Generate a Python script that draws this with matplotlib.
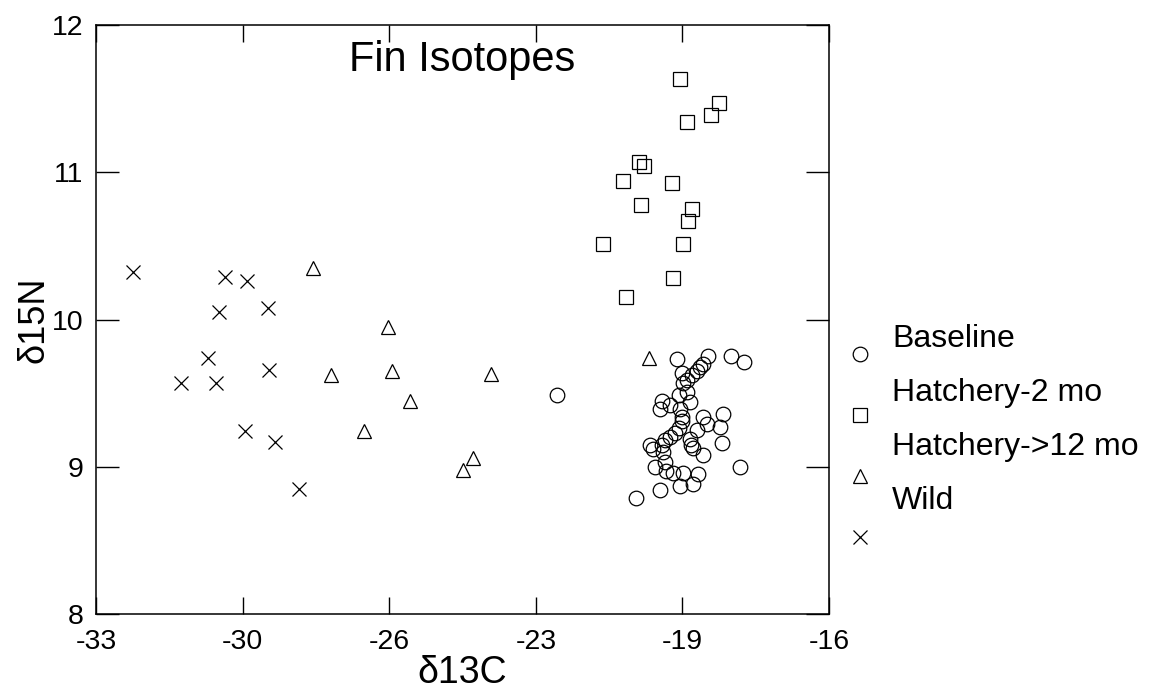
import numpy as np
import matplotlib
matplotlib.use("Agg")
import matplotlib.pyplot as plt
from matplotlib.lines import Line2D

plt.rcParams['font.family'] = ['Liberation Sans', 'DejaVu Sans']

# Baseline (circles)
base_x = [-22.32, -19.53, -18.80, -18.27, -17.97, -18.92, -18.99, -19.07, -19.19, -19.30,
          -19.38, -19.42, -19.29, -19.47, -19.23, -19.88, -19.92, -19.69, -19.46, -19.40,
          -19.42, -19.47, -19.57, -19.69, -19.80, -19.88, -20.15, -20.08, -19.86, -18.92,
          -18.84, -18.53, -18.47, -19.07, -19.22, -19.21, -19.16, -18.92, -18.49, -20.04,
          -19.80, -19.77, -19.63, -19.38, -19.03, -19.46, -19.16, -19.92, -20.48, -18.07]
base_y = [9.49, 9.73, 9.75, 9.75, 9.71, 9.70, 9.68, 9.65, 9.62, 9.59,
          9.57, 9.64, 9.51, 9.49, 9.44, 9.45, 9.39, 9.42, 9.39, 9.34,
          9.31, 9.26, 9.23, 9.20, 9.18, 9.15, 9.15, 9.12, 9.10, 9.34,
          9.29, 9.27, 9.36, 9.25, 9.19, 9.15, 9.13, 9.08, 9.16, 9.00,
          9.03, 8.97, 8.96, 8.96, 8.95, 8.87, 8.88, 8.84, 8.79, 9.00]

# Hatchery-2 mo (squares)
h2_x = [-19.46, -18.55, -18.73, -19.30, -20.41, -20.30, -20.77, -19.65, -20.35, -19.17,
        -19.26, -21.25, -19.38, -19.63, -20.72]
h2_y = [11.63, 11.47, 11.39, 11.34, 11.07, 11.04, 10.94, 10.93, 10.78, 10.75,
        10.67, 10.51, 10.51, 10.28, 10.15]

# Hatchery->12 mo (triangles)
h12_x = [-27.96, -26.22, -27.55, -26.14, -23.84, -25.71, -26.79, -24.25, -24.48, -20.17]
h12_y = [10.35, 9.95, 9.62, 9.65, 9.63, 9.45, 9.24, 9.06, 8.98, 9.74]

# Wild (crosses)
wild_x = [-32.15, -30.01, -29.51, -30.15, -29.02, -30.40, -31.03, -30.22, -28.99, -29.54,
          -28.86, -28.29]
wild_y = [10.32, 10.29, 10.26, 10.05, 10.08, 9.74, 9.57, 9.57, 9.66, 9.24,
          9.17, 8.85]

xtick_labels = ['-33', '-30', '-26', '-23', '-19', '-16']
ytick_vals = [8, 9, 10, 11, 12]
legend_labels = ['Baseline', 'Hatchery-2 mo', 'Hatchery->12 mo', 'Wild']

fig = plt.figure(figsize=(11.6, 6.98), dpi=100)
ax = fig.add_axes([0.0828, 0.1203, 0.6319, 0.8439])

ms = 10.5
ax.plot(base_x, base_y, 'o', mfc='none', mec='black', mew=0.9, ms=ms)
ax.plot(h2_x, h2_y, 's', mfc='none', mec='black', mew=0.9, ms=ms)
ax.plot(h12_x, h12_y, '^', mfc='none', mec='black', mew=0.9, ms=ms)
ax.plot(wild_x, wild_y, 'x', color='black', mew=0.9, ms=ms)

ax.set_xlim(-33, -16)
ax.set_ylim(8, 12)
ax.set_xticks(np.linspace(-33, -16, 6))
ax.set_xticklabels(xtick_labels)
ax.set_yticks(ytick_vals)
ax.tick_params(axis='both', direction='in', top=True, right=True, labelsize=20.5, width=1)
ax.tick_params(axis='x', length=12.5, pad=11)
ax.tick_params(axis='y', length=16.5, pad=9)
for s in ax.spines.values():
    s.set_linewidth(1.1)

ax.set_xlabel('δ13C', fontsize=27, labelpad=0)
ax.set_ylabel('δ15N', fontsize=26, va='center')
ax.yaxis.set_label_coords(-0.085, 0.5)
ax.text(0.5, 0.94, 'Fin Isotopes', transform=ax.transAxes, ha='center', va='center', fontsize=30)

# legend drawn by hand: marker below-left of its label
markers = ['o', 's', '^', 'x']
for i, (m, lab) in enumerate(zip(markers, legend_labels)):
    my = 1 - (354 + i * 61) / 698
    ty = 1 - (339 + i * 54) / 698
    if m == 'x':
        fig.add_artist(Line2D([860 / 1160], [my], marker=m, color='black', mew=0.9, ms=ms,
                              transform=fig.transFigure))
    else:
        fig.add_artist(Line2D([860 / 1160], [my], marker=m, mfc='none', mec='black', mew=0.9,
                              ms=ms, linestyle='none', transform=fig.transFigure))
    fig.text(892 / 1160, ty, lab, fontsize=23, ha='left', va='center')

fig.savefig('out.png', dpi=100)
